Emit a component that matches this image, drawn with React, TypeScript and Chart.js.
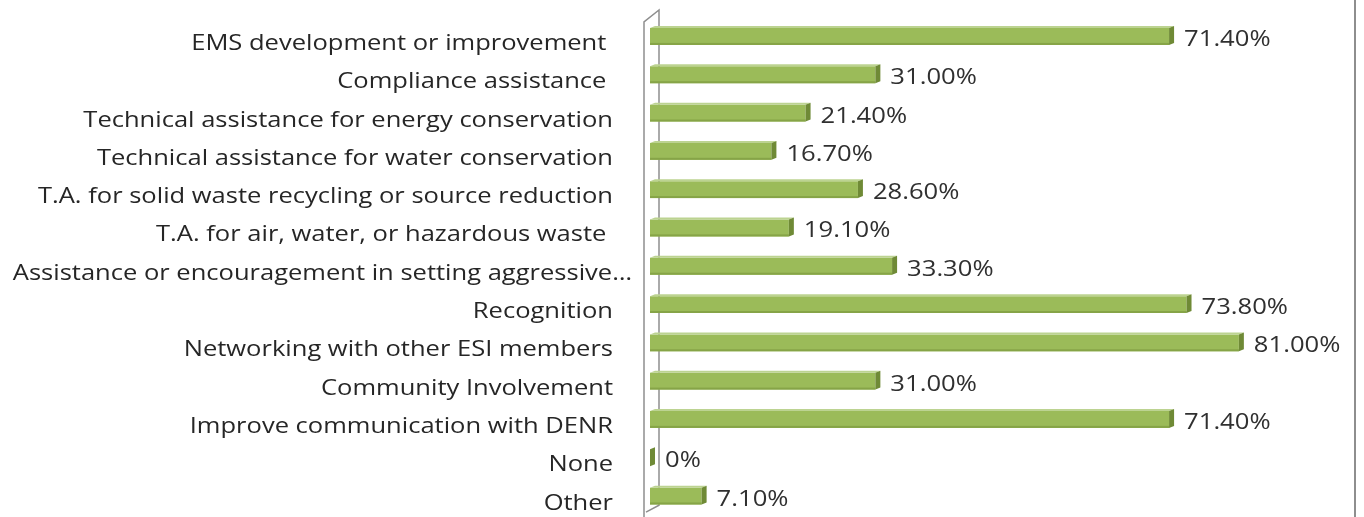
import React, { useEffect, useRef } from "react";
import { Chart, registerables } from "chart.js";

Chart.register(...registerables);

const categories: string[] = [
  "EMS development or improvement ",
  "Compliance assistance ",
  "Technical assistance for energy conservation",
  "Technical assistance for water conservation",
  "T.A. for solid waste recycling or source reduction",
  "T.A. for air, water, or hazardous waste ",
  "Assistance or encouragement in setting aggressive…",
  "Recognition",
  "Networking with other ESI members",
  "Community Involvement",
  "Improve communication with DENR",
  "None",
  "Other",
];

const values: number[] = [71.4, 31.0, 21.4, 16.7, 28.6, 19.1, 33.3, 73.8, 81.0, 31.0, 71.4, 0, 7.1];

const valueLabels: string[] = [
  "71.40%", "31.00%", "21.40%", "16.70%", "28.60%", "19.10%", "33.30%",
  "73.80%", "81.00%", "31.00%", "71.40%", "0%", "7.10%",
];

const FONT = "'Open Sans', sans-serif";

const wallPlugin = {
  id: "wall3d",
  beforeDatasetsDraw(chart: any) {
    const ctx = chart.ctx;
    const area = chart.chartArea;
    const xl = area.left - 6;
    const xr = area.left + 9;
    ctx.save();
    ctx.strokeStyle = "#8e8e8e";
    ctx.lineWidth = 1.5;
    ctx.beginPath();
    ctx.moveTo(xl, chart.height + 5);
    ctx.lineTo(xl, area.top + 4.6);
    ctx.lineTo(xr, area.top - 7.4);
    ctx.lineTo(xr, area.bottom - 10);
    ctx.lineTo(xl + 2, area.bottom - 3);
    ctx.stroke();
    ctx.restore();
  },
};

const labelsPlugin = {
  id: "stretchedLabels",
  afterDraw(chart: any) {
    const ctx = chart.ctx;
    const meta = chart.getDatasetMeta(0);
    const area = chart.chartArea;
    ctx.save();
    ctx.fillStyle = "#262626";
    ctx.font = "22px " + FONT;
    ctx.textAlign = "right";
    ctx.textBaseline = "alphabetic";
    const sx = 1.16;
    meta.data.forEach((bar: any, i: number) => {
      ctx.save();
      const truncated = categories[i].endsWith("…");
      const xr = area.left - 37 + (truncated ? 19 : 0);
      ctx.translate(xr, bar.y + 13.5);
      ctx.scale(sx, 1);
      ctx.fillText(categories[i], 0, 0);
      ctx.restore();
    });
    ctx.restore();
  },
};

const bar3dPlugin = {
  id: "bar3d",
  afterDatasetsDraw(chart: any) {
    const ctx = chart.ctx;
    const meta = chart.getDatasetMeta(0);
    ctx.save();
    meta.data.forEach((bar: any, i: number) => {
      const x = bar.x;
      const h = bar.height;
      const top = bar.y - h / 2;
      const bot = bar.y + h / 2;
      const left = bar.base;
      // top face
      ctx.fillStyle = "#bcd391";
      ctx.beginPath();
      ctx.moveTo(left, top);
      ctx.lineTo(left + 5, top - 2);
      ctx.lineTo(x + 5, top - 2);
      ctx.lineTo(x, top);
      ctx.closePath();
      ctx.fill();
      // bottom shade
      ctx.fillStyle = "#86a447";
      ctx.fillRect(left, bot - 2, x - left, 2);
      // side face
      ctx.fillStyle = "#6f8a36";
      ctx.beginPath();
      ctx.moveTo(x, top);
      ctx.lineTo(x + 5, top - 2);
      ctx.lineTo(x + 5, bot - 2);
      ctx.lineTo(x, bot);
      ctx.closePath();
      ctx.fill();
      // value label
      ctx.save();
      ctx.fillStyle = "#303030";
      ctx.font = "21px " + FONT;
      ctx.textAlign = "left";
      ctx.textBaseline = "alphabetic";
      ctx.translate(x + 15, bar.y + 9.5);
      ctx.scale(1.22, 1);
      ctx.fillText(valueLabels[i], 0, 0);
      ctx.restore();
    });
    ctx.restore();
  },
};

export default function App() {
  const ref = useRef<HTMLCanvasElement>(null);
  useEffect(() => {
    if (!ref.current) return;
    const chart = new Chart(ref.current, {
      type: "bar",
      data: {
        labels: categories,
        datasets: [
          {
            data: values,
            backgroundColor: "#9bbb59",
            borderWidth: 0,
            barPercentage: 0.44,
            categoryPercentage: 1,
          },
        ],
      },
      options: {
        indexAxis: "y",
        animation: false,
        responsive: false,
        maintainAspectRatio: false,
        layout: { padding: { left: 0, right: 59.7, top: 17.35, bottom: 1.8 } },
        plugins: { legend: { display: false }, tooltip: { enabled: false } },
        scales: {
          x: { display: false, min: 0, max: 90 },
          y: {
            afterFit: (s: any) => {
              s.width = 650;
              s.paddingTop = 0;
              s.paddingBottom = 0;
            },
            grid: { display: false, drawTicks: false },
            border: { display: false },
            ticks: { display: false, padding: 0 },
          },
        },
      },
      plugins: [wallPlugin, bar3dPlugin, labelsPlugin],
    });
    return () => chart.destroy();
  }, []);
  return (
    <div style={{ position: "absolute", left: 0, top: 0, width: 1364, height: 517, overflow: "hidden", background: "#fff" }}>
      <canvas ref={ref} width={1364} height={517} style={{ width: 1364, height: 517, display: "block" }} />
      <div style={{ position: "absolute", left: 1354, top: 0, width: 1.5, height: 517, background: "#8e8e8e" }} />
    </div>
  );
}
